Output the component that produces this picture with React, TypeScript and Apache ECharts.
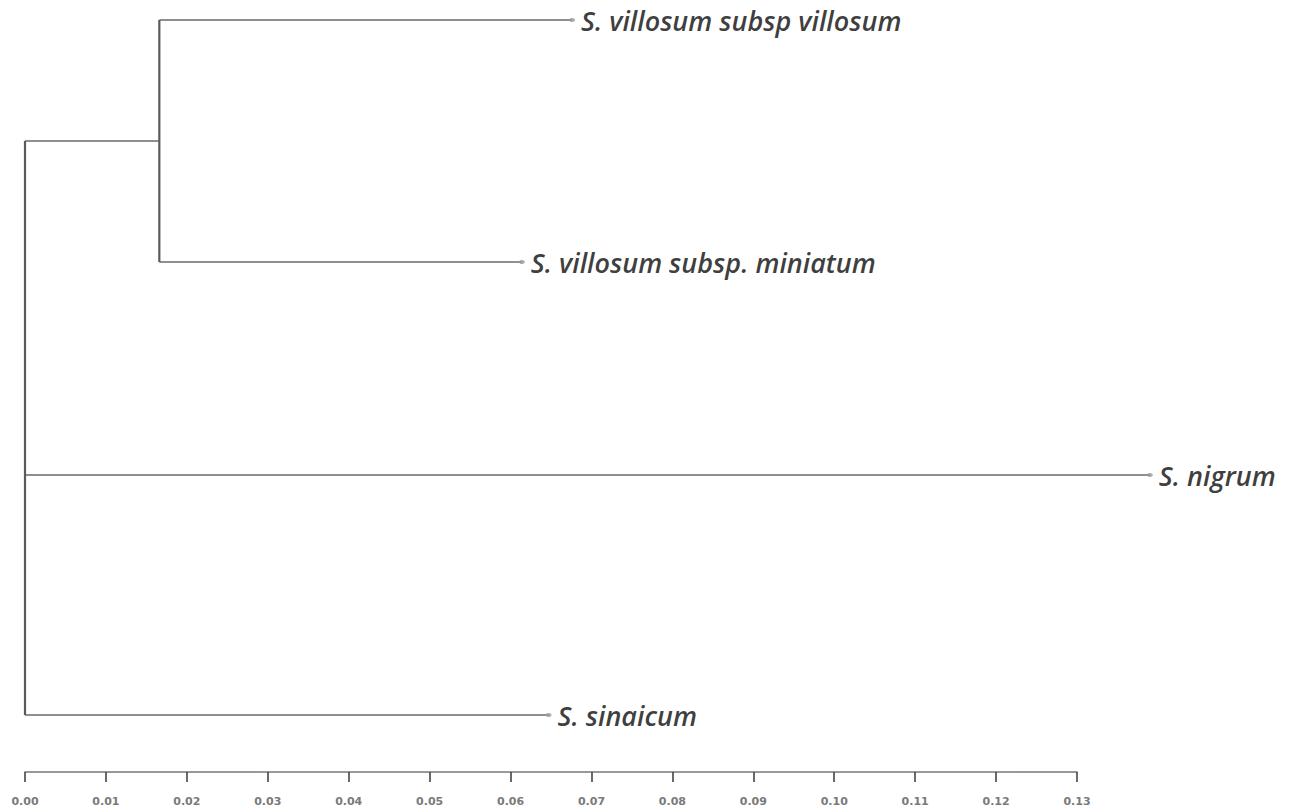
import React, { useEffect, useRef } from "react";
import * as echarts from "echarts";

// Leaves of the dendrogram (top to bottom)
const leafNames = [
  "S. villosum subsp villosum",
  "S. villosum subsp. miniatum",
  "S. nigrum",
  "S. sinaicum",
];
// Distance from root (x) at which each leaf branch ends
const leafDistance = [0.0676, 0.0614, 0.139, 0.0647];
// Vertical row position of each leaf (arbitrary units, top = 0)
const leafRow = [0, 242, 455, 695];
// Internal node joining the two villosum taxa
const internalDistance = 0.0166;
const internalChildren = [0, 1];
// Root children: internal node, nigrum, sinaicum
const rootLeafChildren = [2, 3];
// Axis ticks
const tickMin = 0;
const tickMax = 0.13;
const tickStep = 0.01;

function buildSegments() {
  const segs: number[][] = [];
  const internalRow =
    (leafRow[internalChildren[0]] + leafRow[internalChildren[1]]) / 2;
  internalChildren.forEach((i) => {
    segs.push([internalDistance, leafRow[i], leafDistance[i], leafRow[i], 0]);
  });
  segs.push([
    internalDistance,
    leafRow[internalChildren[0]],
    internalDistance,
    leafRow[internalChildren[1]],
    1,
  ]);
  segs.push([0, internalRow, internalDistance, internalRow, 0]);
  rootLeafChildren.forEach((i) => {
    segs.push([0, leafRow[i], leafDistance[i], leafRow[i], 0]);
  });
  const rows = [internalRow, ...rootLeafChildren.map((i) => leafRow[i])];
  segs.push([0, Math.min(...rows), 0, Math.max(...rows), 1]);
  return segs;
}

export default function App() {
  const ref = useRef<HTMLDivElement>(null);
  useEffect(() => {
    if (!ref.current) return;
    const chart = echarts.init(ref.current, null, { renderer: "svg" });
    const segs = buildSegments();
    chart.setOption({
      animation: false,
      backgroundColor: "#ffffff",
      grid: { left: 25, top: 20, width: 1052, height: 695 },
      xAxis: {
        type: "value",
        min: tickMin,
        max: tickMax,
        interval: tickStep,
        position: "bottom",
        offset: 57,
        splitLine: { show: false },
        axisLine: {
          show: true,
          onZero: false,
          lineStyle: { color: "#777", width: 1.5 },
        },
        axisTick: {
          show: true,
          inside: false,
          length: 10,
          lineStyle: { color: "#444", width: 1.6 },
        },
        axisLabel: {
          margin: 24,
          fontSize: 11,
          fontWeight: "bold",
          fontFamily: "DejaVu Sans, Verdana, sans-serif",
          color: "#7a7a7a",
          formatter: (v: number) => v.toFixed(2),
        },
      },
      yAxis: {
        type: "value",
        inverse: true,
        min: 0,
        max: 695,
        show: false,
      },
      series: [
        {
          type: "custom",
          data: segs,
          silent: true,
          clip: false,
          renderItem: (params: any, api: any) => {
            const p1 = api.coord([api.value(0), api.value(1)]);
            const p2 = api.coord([api.value(2), api.value(3)]);
            const vertical = api.value(4) === 1;
            return {
              type: "line",
              shape: { x1: p1[0], y1: p1[1], x2: p2[0], y2: p2[1] },
              style: {
                stroke: vertical ? "#5a5a5a" : "#6a6a6a",
                lineWidth: vertical ? 2.2 : 1.3,
              },
            };
          },
        },
        {
          type: "scatter",
          symbol: "circle",
          symbolSize: [6, 4],
          itemStyle: { color: "#999" },
          silent: true,
          clip: false,
          data: leafNames.map((n, i) => ({
            name: n,
            value: [leafDistance[i], leafRow[i]],
          })),
          label: {
            show: true,
            position: "right",
            distance: 6,
            formatter: (p: any) => p.name,
            fontFamily: "Open Sans, sans-serif",
            fontStyle: "italic",
            fontWeight: 600,
            fontSize: 27,
            color: "#0a0a0a",
          },
        },
      ],
    });
    return () => chart.dispose();
  }, []);
  return (
    <div
      ref={ref}
      style={{ position: "absolute", left: 0, top: 0, width: 1293, height: 811 }}
    />
  );
}
